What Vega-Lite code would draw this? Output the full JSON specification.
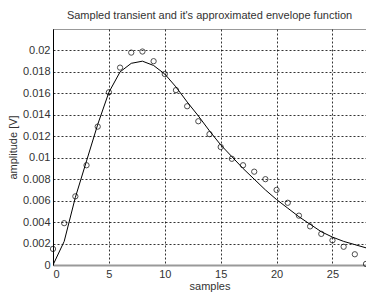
{
  "$schema": "https://vega.github.io/schema/vega-lite/v6.json",
  "width": 313,
  "height": 236,
  "padding": {"left": 53, "top": 29, "right": 0, "bottom": 29},
  "autosize": {"type": "none"},
  "background": "white",
  "config": {
    "view": {"stroke": "#999999", "strokeWidth": 1},
    "font": "Liberation Sans",
    "axis": {
      "labelFont": "Liberation Sans",
      "titleFont": "Liberation Sans",
      "labelFontSize": 11,
      "titleFontSize": 11,
      "titleFontWeight": "normal",
      "labelColor": "#333333",
      "titleColor": "#333333",
      "labelOverlap": false,
      "grid": true,
      "gridColor": "#000000",
      "gridDash": [2, 2],
      "gridOpacity": 0.8,
      "ticks": false,
      "labelPadding": 3
    }
  },
  "title": {
    "text": "Sampled transient and it's approximated envelope function",
    "font": "Liberation Sans",
    "fontSize": 11,
    "fontWeight": "normal",
    "color": "#333333",
    "offset": 8,
    "anchor": "middle"
  },
  "data": {
    "values": [
      {"n": 0, "a": 0.0015, "e": 0}, {"n": 1, "a": 0.0039, "e": 0.0022},
      {"n": 2, "a": 0.0064, "e": 0.0063}, {"n": 3, "a": 0.0093, "e": 0.0097},
      {"n": 4, "a": 0.0129, "e": 0.0131}, {"n": 5, "a": 0.0161, "e": 0.0161},
      {"n": 6, "a": 0.0184, "e": 0.0180}, {"n": 7, "a": 0.0198, "e": 0.0188},
      {"n": 8, "a": 0.0199, "e": 0.0190}, {"n": 9, "a": 0.0190, "e": 0.0186},
      {"n": 10, "a": 0.0178, "e": 0.0178}, {"n": 11, "a": 0.0163, "e": 0.0166},
      {"n": 12, "a": 0.0148, "e": 0.0152}, {"n": 13, "a": 0.0134, "e": 0.0139},
      {"n": 14, "a": 0.0122, "e": 0.0125}, {"n": 15, "a": 0.0110, "e": 0.0112},
      {"n": 16, "a": 0.0099, "e": 0.0101}, {"n": 17, "a": 0.0093, "e": 0.0090},
      {"n": 18, "a": 0.0087, "e": 0.0080}, {"n": 19, "a": 0.0080, "e": 0.0070},
      {"n": 20, "a": 0.0070, "e": 0.0061}, {"n": 21, "a": 0.0058, "e": 0.0053},
      {"n": 22, "a": 0.0046, "e": 0.0045}, {"n": 23, "a": 0.0036, "e": 0.0038},
      {"n": 24, "a": 0.0029, "e": 0.0031}, {"n": 25, "a": 0.0023, "e": 0.0026},
      {"n": 26, "a": 0.0017, "e": 0.0022}, {"n": 27, "a": 0.0010, "e": 0.0019},
      {"n": 28, "a": 0.0001, "e": 0.0016}
    ]
  },
  "encoding": {
    "x": {
      "field": "n", "type": "quantitative",
      "scale": {"domain": [0, 28], "nice": false},
      "axis": {"values": [0, 5, 10, 15, 20, 25], "title": "samples", "titlePadding": 1, "domainColor": "#999999", "domainWidth": 2}
    }
  },
  "layer": [
    {
      "mark": {"type": "line", "color": "#000000", "strokeWidth": 1, "clip": true},
      "encoding": {
        "y": {
          "field": "e", "type": "quantitative",
          "scale": {"domain": [0, 0.022], "nice": false},
          "axis": {
            "values": [0, 0.002, 0.004, 0.006, 0.008, 0.01, 0.012, 0.014, 0.016, 0.018, 0.02],
            "format": "~g",
            "labelOverlap": false,
            "title": "amplitude [V]",
            "titlePadding": 4,
            "domainColor": "#000000"
          }
        }
      }
    },
    {
      "mark": {"type": "point", "shape": "circle", "filled": false, "color": "#000000", "size": 28, "strokeWidth": 1, "clip": false},
      "encoding": {
        "y": {
          "field": "a", "type": "quantitative",
          "scale": {"domain": [0, 0.022], "nice": false},
          "axis": {
            "values": [0, 0.002, 0.004, 0.006, 0.008, 0.01, 0.012, 0.014, 0.016, 0.018, 0.02],
            "format": "~g",
            "labelOverlap": false,
            "title": "amplitude [V]",
            "titlePadding": 4,
            "domainColor": "#000000"
          }
        }
      }
    }
  ]
}
